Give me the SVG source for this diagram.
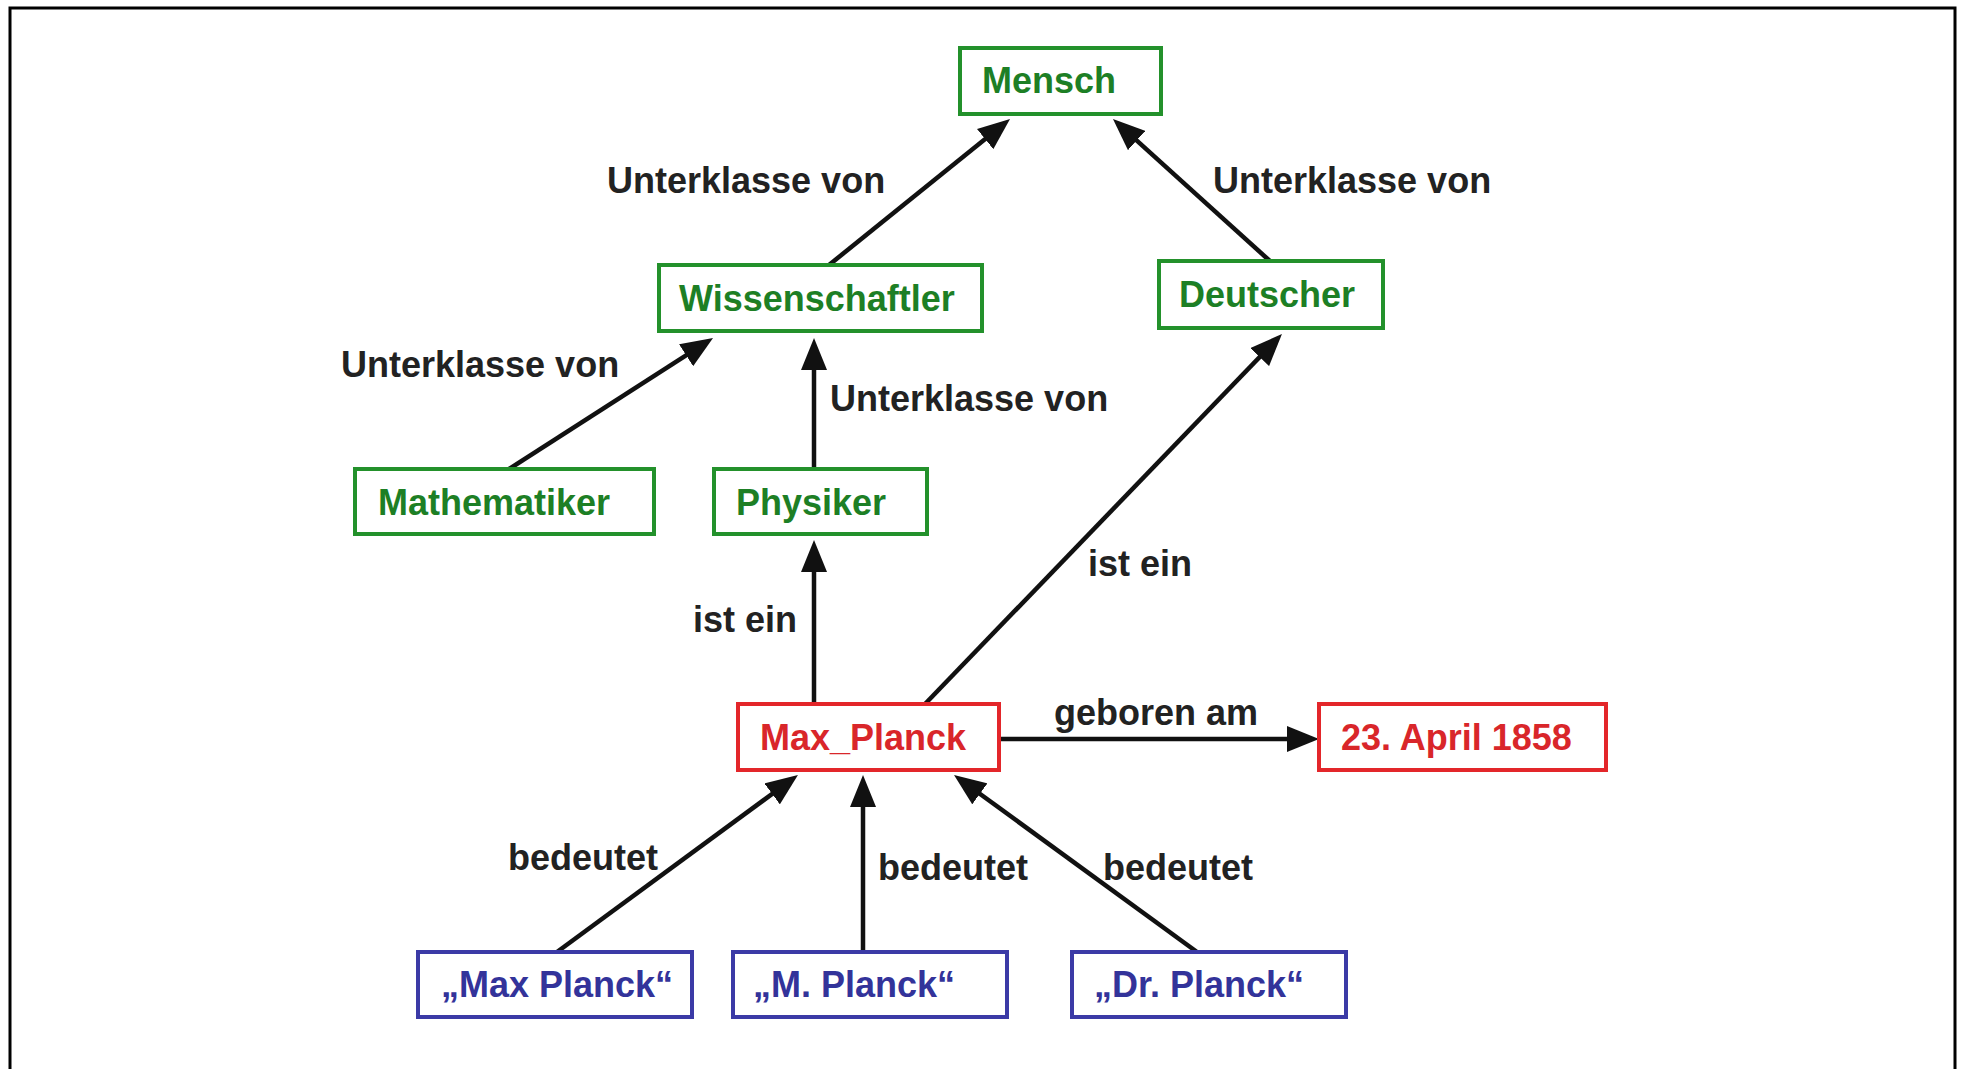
<svg xmlns="http://www.w3.org/2000/svg" width="1961" height="1069" viewBox="0 0 1961 1069">
  <defs>
    <marker id="arrow" markerUnits="userSpaceOnUse" markerWidth="32" markerHeight="26" viewBox="0 0 32 26" refX="24" refY="13" orient="auto">
      <path d="M0,0 L32,13 L0,26 z" fill="#111"/>
    </marker>
    <style>
      text { font-family: "Liberation Sans", Arial, sans-serif; font-weight: bold; font-size: 36px; }
      .box { fill: #fff; stroke-width: 4; }
      .cls rect { stroke: #23912b; }
      .cls text { fill: #1d7f25; }
      .ind rect { stroke: #e3262a; }
      .ind text { fill: #d9262a; }
      .lit rect { stroke: #3b3aa6; }
      .lit text { fill: #33339a; }
      .lbl { fill: #222; }
      .edge { stroke: #111; stroke-width: 4.5; fill: none; marker-end: url(#arrow); }
    </style>
  </defs>
  <rect width="1961" height="1069" fill="#fff"/>
  <path d="M10,1069 L10,8 L1955,8 L1955,1069" fill="none" stroke="#000" stroke-width="3"/>

  <g id="connectors">
    <line class="edge" x1="829" y1="265" x2="1003.8" y2="124"/>
    <line class="edge" x1="1271" y1="262" x2="1118.9" y2="124.4"/>
    <line class="edge" x1="509" y1="469" x2="706.3" y2="342.3"/>
    <line class="edge" x1="814" y1="469" x2="814" y2="346"/>
    <line class="edge" x1="814" y1="704" x2="814" y2="548"/>
    <line class="edge" x1="925" y1="704" x2="1276.4" y2="339.8"/>
    <line class="edge" x1="999" y1="739" x2="1311" y2="739"/>
    <line class="edge" x1="557" y1="952" x2="791.5" y2="779.7"/>
    <line class="edge" x1="863" y1="952" x2="863" y2="783"/>
    <line class="edge" x1="1197" y1="952" x2="960.5" y2="779.7"/>
    <text class="lbl" x="607" y="193">Unterklasse von</text>
    <text class="lbl" x="1213" y="193">Unterklasse von</text>
    <text class="lbl" x="341" y="377">Unterklasse von</text>
    <text class="lbl" x="830" y="411">Unterklasse von</text>
    <text class="lbl" x="693" y="632">ist ein</text>
    <text class="lbl" x="1088" y="576">ist ein</text>
    <text class="lbl" x="1054" y="725">geboren am</text>
    <text class="lbl" x="508" y="870">bedeutet</text>
    <text class="lbl" x="878" y="880">bedeutet</text>
    <text class="lbl" x="1103" y="880">bedeutet</text>
  </g>

  <g id="mensch" class="cls">
    <rect class="box" x="960" y="48" width="201" height="66"/>
    <text x="982" y="93">Mensch</text>
  </g>
  <g id="wissenschaftler" class="cls">
    <rect class="box" x="659" y="265" width="323" height="66"/>
    <text x="679" y="311">Wissenschaftler</text>
  </g>
  <g id="deutscher" class="cls">
    <rect class="box" x="1159" y="261" width="224" height="67"/>
    <text x="1179" y="307">Deutscher</text>
  </g>
  <g id="mathematiker" class="cls">
    <rect class="box" x="355" y="469" width="299" height="65"/>
    <text x="378" y="515">Mathematiker</text>
  </g>
  <g id="physiker" class="cls">
    <rect class="box" x="714" y="469" width="213" height="65"/>
    <text x="736" y="515">Physiker</text>
  </g>
  <g id="max_planck" class="ind">
    <rect class="box" x="738" y="704" width="261" height="66"/>
    <text x="760" y="750">Max_Planck</text>
  </g>
  <g id="datum" class="ind">
    <rect class="box" x="1319" y="704" width="287" height="66"/>
    <text x="1341" y="750">23. April 1858</text>
  </g>
  <g id="lit_max" class="lit">
    <rect class="box" x="418" y="952" width="274" height="65"/>
    <text x="441" y="997">„Max Planck“</text>
  </g>
  <g id="lit_m" class="lit">
    <rect class="box" x="733" y="952" width="274" height="65"/>
    <text x="753" y="997">„M. Planck“</text>
  </g>
  <g id="lit_dr" class="lit">
    <rect class="box" x="1072" y="952" width="274" height="65"/>
    <text x="1094" y="997">„Dr. Planck“</text>
  </g>
</svg>
